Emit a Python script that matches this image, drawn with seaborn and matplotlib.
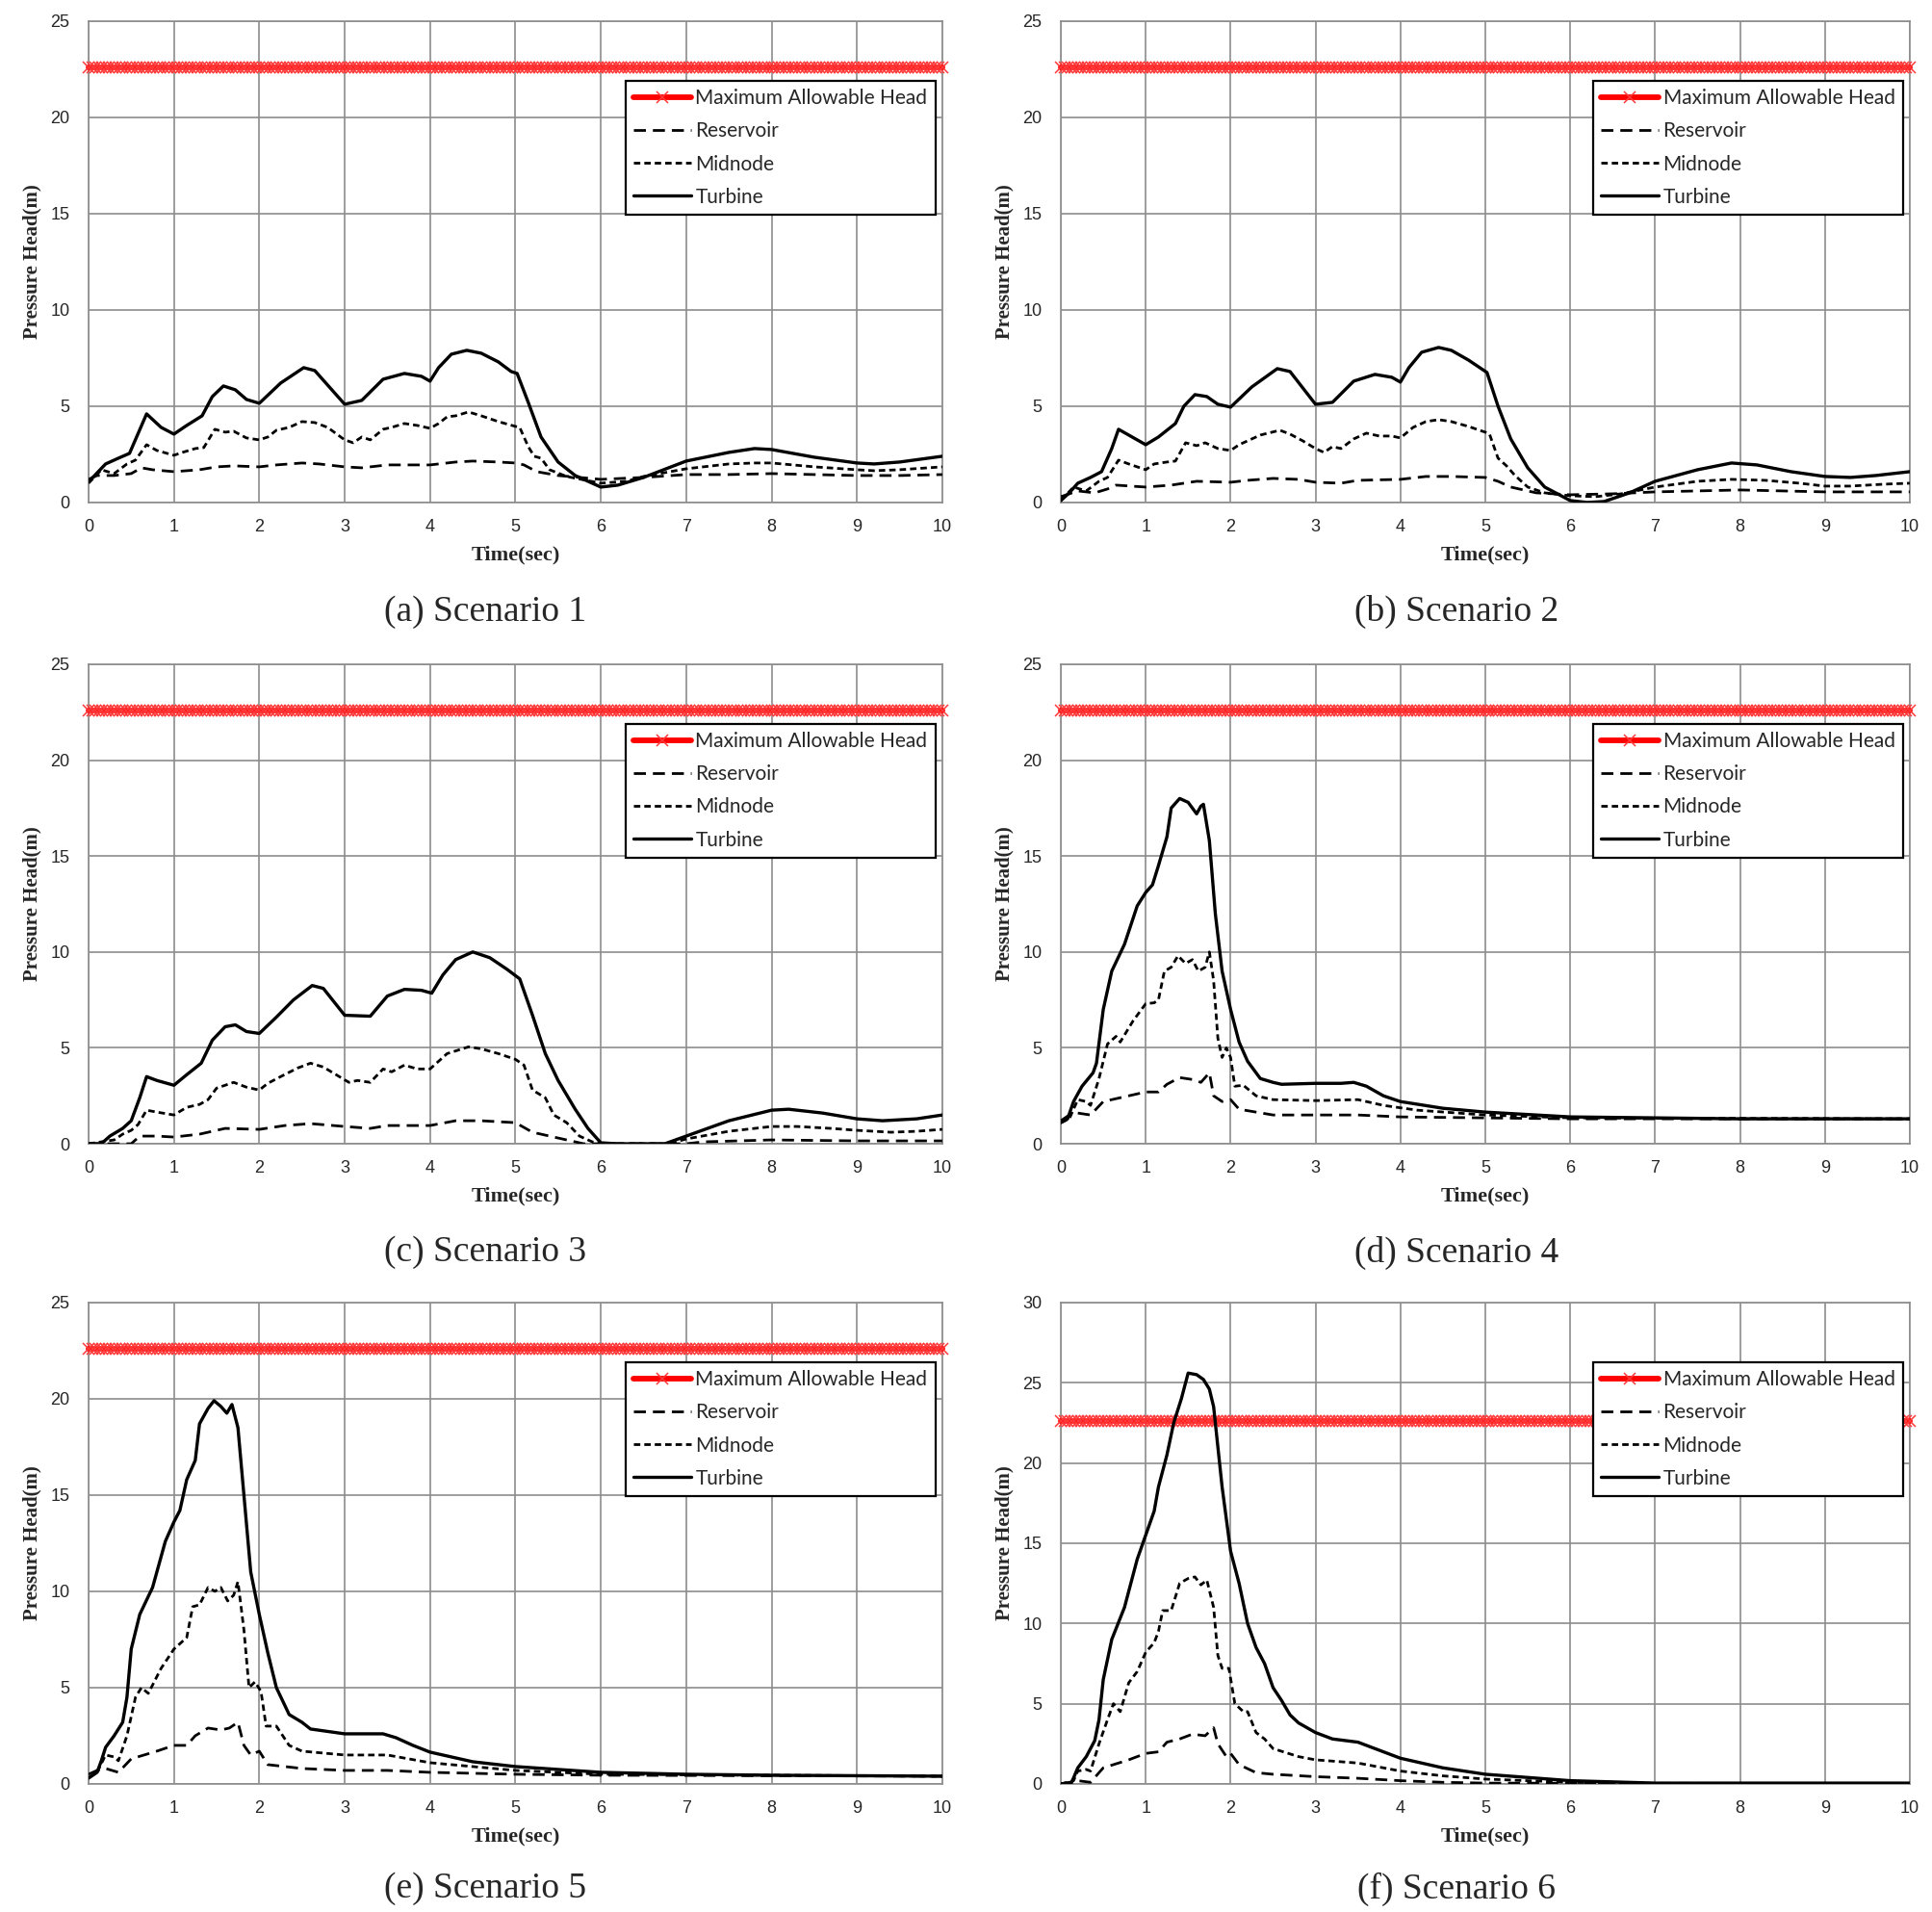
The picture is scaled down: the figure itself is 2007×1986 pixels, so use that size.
import numpy as np
import pandas as pd
import seaborn as sns
import matplotlib.pyplot as plt

# allowable head (constant) and the time steps the series was written at
max_head = 22.6
time_steps = np.linspace(0, 10, 251)

# ---------------- Scenario 1 ----------------
s1_res_t = [0, 0.1, 0.3, 0.5, 0.62, 0.75, 1.0, 1.3, 1.5, 1.7, 2.0, 2.2, 2.5, 2.7, 3.0, 3.2, 3.5, 4.0, 4.3, 4.5, 4.8, 5.0, 5.1, 5.25, 5.5, 6.0, 6.5, 7.0, 7.5, 8.0, 8.5, 9.0, 9.5, 10]
s1_res_h = [1.2, 1.4, 1.4, 1.5, 1.8, 1.7, 1.6, 1.7, 1.85, 1.9, 1.85, 1.95, 2.05, 2.0, 1.85, 1.8, 1.95, 1.95, 2.1, 2.15, 2.1, 2.05, 1.95, 1.6, 1.4, 1.2, 1.3, 1.45, 1.45, 1.5, 1.45, 1.4, 1.4, 1.45]
s1_mid_t = [0, 0.15, 0.3, 0.45, 0.55, 0.68, 0.8, 1.0, 1.1, 1.25, 1.35, 1.48, 1.6, 1.7, 1.85, 2.0, 2.1, 2.2, 2.35, 2.5, 2.65, 2.8, 3.0, 3.1, 3.2, 3.3, 3.45, 3.55, 3.7, 3.85, 4.0, 4.1, 4.2, 4.3, 4.45, 4.6, 4.8, 5.0, 5.05, 5.15, 5.22, 5.3, 5.4, 5.6, 6.0, 6.3, 6.5, 7.0, 7.5, 7.8, 8.0, 8.5, 9.0, 9.2, 9.5, 10]
s1_mid_h = [1.0, 1.7, 1.5, 2.0, 2.2, 3.0, 2.7, 2.45, 2.6, 2.8, 2.85, 3.8, 3.65, 3.7, 3.35, 3.25, 3.4, 3.75, 3.9, 4.2, 4.15, 3.9, 3.25, 3.1, 3.4, 3.25, 3.8, 3.9, 4.1, 4.0, 3.85, 4.1, 4.45, 4.5, 4.7, 4.5, 4.2, 3.95, 3.9, 2.9, 2.4, 2.3, 1.7, 1.35, 1.0, 1.1, 1.35, 1.75, 2.0, 2.05, 2.05, 1.85, 1.7, 1.65, 1.7, 1.85]
s1_tur_t = [0, 0.05, 0.2, 0.35, 0.48, 0.68, 0.85, 1.0, 1.15, 1.33, 1.45, 1.58, 1.72, 1.85, 2.0, 2.25, 2.52, 2.65, 3.0, 3.2, 3.45, 3.7, 3.9, 4.0, 4.1, 4.25, 4.43, 4.6, 4.8, 4.95, 5.02, 5.15, 5.3, 5.5, 5.7, 6.0, 6.2, 6.5, 7.0, 7.5, 7.8, 8.0, 8.5, 9.0, 9.2, 9.5, 10]
s1_tur_h = [1.1, 1.3, 2.0, 2.3, 2.55, 4.6, 3.9, 3.55, 4.0, 4.5, 5.5, 6.05, 5.85, 5.35, 5.15, 6.2, 7.0, 6.85, 5.1, 5.3, 6.4, 6.7, 6.55, 6.3, 7.0, 7.7, 7.9, 7.75, 7.3, 6.8, 6.7, 5.2, 3.4, 2.1, 1.4, 0.8, 0.9, 1.3, 2.15, 2.6, 2.8, 2.75, 2.35, 2.05, 2.0, 2.1, 2.4]

# ---------------- Scenario 2 ----------------
s2_res_t = [0, 0.2, 0.4, 0.55, 0.65, 1.0, 1.3, 1.6, 2.0, 2.2, 2.5, 2.8, 3.0, 3.3, 3.5, 4.0, 4.3, 4.6, 5.0, 5.15, 5.3, 5.6, 6.0, 6.5, 7.0, 7.5, 8.0, 8.5, 9.0, 9.5, 10]
s2_res_h = [0.3, 0.6, 0.5, 0.7, 0.9, 0.8, 0.9, 1.1, 1.05, 1.15, 1.25, 1.2, 1.05, 1.0, 1.15, 1.2, 1.35, 1.35, 1.3, 1.1, 0.8, 0.5, 0.4, 0.45, 0.55, 0.6, 0.65, 0.6, 0.55, 0.55, 0.55]
s2_mid_t = [0, 0.15, 0.3, 0.45, 0.55, 0.68, 0.8, 1.0, 1.1, 1.25, 1.35, 1.47, 1.6, 1.7, 1.85, 2.0, 2.1, 2.2, 2.35, 2.58, 2.7, 2.85, 3.0, 3.1, 3.2, 3.3, 3.45, 3.6, 3.75, 3.9, 4.0, 4.15, 4.3, 4.45, 4.6, 4.8, 5.0, 5.05, 5.15, 5.25, 5.35, 5.5, 5.7, 6.0, 6.3, 6.6, 7.0, 7.5, 7.9, 8.3, 8.7, 9.0, 9.3, 9.7, 10]
s2_mid_h = [0.1, 0.8, 0.6, 1.1, 1.3, 2.2, 2.0, 1.7, 2.0, 2.1, 2.15, 3.1, 2.95, 3.1, 2.8, 2.7, 3.0, 3.2, 3.5, 3.75, 3.55, 3.2, 2.8, 2.6, 2.9, 2.8, 3.3, 3.6, 3.45, 3.45, 3.35, 3.9, 4.2, 4.3, 4.2, 3.95, 3.65, 3.55, 2.3, 1.9, 1.4, 0.8, 0.5, 0.35, 0.3, 0.45, 0.8, 1.1, 1.2, 1.15, 1.0, 0.85, 0.85, 0.95, 1.0]
s2_tur_t = [0, 0.1, 0.2, 0.35, 0.48, 0.6, 0.68, 0.8, 1.0, 1.15, 1.35, 1.45, 1.58, 1.72, 1.85, 2.0, 2.25, 2.55, 2.7, 3.0, 3.2, 3.45, 3.7, 3.9, 4.0, 4.1, 4.25, 4.45, 4.6, 4.8, 5.02, 5.15, 5.3, 5.5, 5.7, 6.0, 6.2, 6.4, 6.7, 7.0, 7.5, 7.9, 8.2, 8.6, 9.0, 9.3, 9.6, 10]
s2_tur_h = [0.1, 0.5, 1.0, 1.3, 1.6, 2.8, 3.8, 3.5, 3.0, 3.4, 4.1, 5.0, 5.6, 5.5, 5.1, 4.95, 6.0, 6.95, 6.8, 5.1, 5.2, 6.3, 6.65, 6.5, 6.25, 7.0, 7.8, 8.05, 7.9, 7.4, 6.75, 5.0, 3.3, 1.8, 0.8, 0.1, 0.0, 0.05, 0.5, 1.1, 1.7, 2.05, 1.95, 1.6, 1.35, 1.3, 1.4, 1.6]

# ---------------- Scenario 3 ----------------
s3_res_t = [0, 0.5, 0.6, 0.8, 1.0, 1.3, 1.6, 2.0, 2.3, 2.6, 3.0, 3.3, 3.5, 4.0, 4.3, 4.6, 5.0, 5.2, 5.5, 5.8, 6.0, 7.0, 7.2, 8.0, 9.0, 10]
s3_res_h = [0, 0, 0.4, 0.4, 0.35, 0.5, 0.8, 0.75, 0.95, 1.05, 0.9, 0.8, 0.95, 0.95, 1.2, 1.2, 1.1, 0.6, 0.3, 0, 0, 0, 0.1, 0.2, 0.15, 0.15]
s3_mid_t = [0, 0.3, 0.4, 0.5, 0.58, 0.68, 0.8, 1.0, 1.15, 1.3, 1.4, 1.5, 1.7, 1.85, 2.0, 2.1, 2.25, 2.45, 2.6, 2.75, 2.9, 3.05, 3.15, 3.3, 3.45, 3.55, 3.7, 3.85, 4.0, 4.1, 4.2, 4.45, 4.6, 4.8, 5.0, 5.1, 5.2, 5.35, 5.45, 5.6, 5.75, 5.9, 6.0, 6.8, 7.0, 7.5, 8.0, 8.3, 8.7, 9.0, 9.4, 9.7, 10]
s3_mid_h = [0, 0.2, 0.5, 0.7, 1.0, 1.75, 1.65, 1.5, 1.9, 2.05, 2.3, 2.9, 3.2, 2.95, 2.8, 3.15, 3.5, 3.95, 4.2, 4.0, 3.6, 3.2, 3.3, 3.2, 3.9, 3.75, 4.1, 3.9, 3.9, 4.3, 4.7, 5.05, 4.95, 4.7, 4.4, 4.1, 2.8, 2.4, 1.5, 1.1, 0.4, 0.1, 0, 0, 0.25, 0.65, 0.9, 0.9, 0.8, 0.7, 0.6, 0.65, 0.75]
s3_tur_t = [0, 0.15, 0.25, 0.4, 0.5, 0.6, 0.68, 0.8, 1.0, 1.15, 1.32, 1.45, 1.6, 1.72, 1.85, 2.0, 2.2, 2.4, 2.62, 2.75, 3.0, 3.3, 3.5, 3.7, 3.9, 4.02, 4.15, 4.3, 4.5, 4.7, 4.9, 5.05, 5.2, 5.35, 5.5, 5.7, 5.85, 6.0, 6.2, 6.75, 7.0, 7.5, 8.0, 8.2, 8.6, 9.0, 9.3, 9.7, 10]
s3_tur_h = [0, 0, 0.4, 0.8, 1.2, 2.4, 3.5, 3.3, 3.05, 3.6, 4.2, 5.4, 6.1, 6.2, 5.85, 5.75, 6.6, 7.5, 8.25, 8.1, 6.7, 6.65, 7.7, 8.05, 8.0, 7.85, 8.8, 9.6, 10.0, 9.7, 9.1, 8.6, 6.7, 4.7, 3.3, 1.8, 0.8, 0.05, 0, 0, 0.4, 1.2, 1.75, 1.8, 1.6, 1.3, 1.2, 1.3, 1.5]

# ---------------- Scenario 4 ----------------
s4_res_t = [0, 0.1, 0.2, 0.35, 0.5, 0.8, 1.0, 1.15, 1.25, 1.4, 1.55, 1.65, 1.75, 1.8, 1.9, 2.0, 2.1, 2.3, 2.5, 3.0, 3.5, 4.0, 5.0, 6.0, 10]
s4_res_h = [1.2, 1.5, 1.6, 1.5, 2.2, 2.5, 2.7, 2.7, 3.1, 3.45, 3.35, 3.2, 3.7, 2.5, 2.2, 2.3, 1.8, 1.65, 1.5, 1.5, 1.5, 1.4, 1.35, 1.3, 1.3]
s4_mid_t = [0, 0.1, 0.2, 0.3, 0.35, 0.45, 0.55, 0.65, 0.7, 0.85, 1.0, 1.1, 1.15, 1.22, 1.3, 1.38, 1.47, 1.55, 1.62, 1.7, 1.75, 1.8, 1.85, 1.9, 1.95, 2.0, 2.05, 2.15, 2.3, 2.5, 3.0, 3.5, 3.8, 4.2, 5.0, 6.0, 10]
s4_mid_h = [1.1, 1.3, 2.3, 2.2, 2.0, 3.4, 5.2, 5.6, 5.3, 6.4, 7.3, 7.35, 7.5, 9.0, 9.2, 9.8, 9.4, 9.6, 9.0, 9.2, 10.0, 8.5, 5.5, 4.5, 5.0, 4.5, 3.0, 3.05, 2.5, 2.3, 2.25, 2.3, 2.0, 1.75, 1.5, 1.35, 1.3]
s4_tur_t = [0, 0.08, 0.15, 0.25, 0.38, 0.42, 0.5, 0.6, 0.75, 0.9, 1.0, 1.08, 1.15, 1.25, 1.3, 1.4, 1.5, 1.6, 1.65, 1.68, 1.75, 1.82, 1.9, 2.0, 2.1, 2.2, 2.35, 2.5, 2.6, 3.0, 3.3, 3.45, 3.6, 3.8, 4.0, 4.5, 5.0, 6.0, 7.0, 8.0, 10]
s4_tur_h = [1.1, 1.3, 2.2, 3.0, 3.7, 4.2, 7.0, 9.0, 10.4, 12.4, 13.1, 13.5, 14.5, 16.0, 17.5, 18.0, 17.8, 17.2, 17.6, 17.7, 15.8, 12.0, 9.0, 7.0, 5.3, 4.3, 3.4, 3.2, 3.1, 3.15, 3.15, 3.2, 3.0, 2.5, 2.2, 1.85, 1.65, 1.4, 1.35, 1.3, 1.3]

# ---------------- Scenario 5 ----------------
s5_res_t = [0, 0.1, 0.2, 0.35, 0.5, 0.8, 1.0, 1.15, 1.25, 1.4, 1.55, 1.65, 1.75, 1.82, 1.9, 2.0, 2.1, 2.3, 2.5, 3.0, 3.5, 4.0, 5.0, 6.0, 10]
s5_res_h = [0.5, 0.7, 0.8, 0.6, 1.3, 1.7, 2.0, 2.0, 2.5, 2.9, 2.8, 2.9, 3.2, 2.0, 1.5, 1.7, 1.0, 0.9, 0.8, 0.7, 0.7, 0.6, 0.5, 0.45, 0.4]
s5_mid_t = [0, 0.1, 0.2, 0.3, 0.35, 0.45, 0.55, 0.62, 0.7, 0.85, 1.0, 1.1, 1.15, 1.22, 1.3, 1.4, 1.48, 1.55, 1.63, 1.7, 1.75, 1.82, 1.88, 1.95, 2.02, 2.08, 2.2, 2.35, 2.5, 3.0, 3.5, 4.0, 5.0, 6.0, 10]
s5_mid_h = [0.3, 0.6, 1.5, 1.4, 1.2, 2.5, 4.5, 5.0, 4.7, 6.0, 7.0, 7.4, 7.6, 9.2, 9.3, 10.2, 10.0, 10.2, 9.5, 9.8, 10.5, 8.0, 5.0, 5.3, 4.8, 3.0, 3.0, 2.0, 1.7, 1.5, 1.5, 1.1, 0.7, 0.5, 0.4]
s5_tur_t = [0, 0.1, 0.15, 0.2, 0.3, 0.4, 0.45, 0.5, 0.6, 0.75, 0.9, 1.0, 1.07, 1.15, 1.25, 1.3, 1.4, 1.47, 1.55, 1.62, 1.68, 1.75, 1.82, 1.9, 2.0, 2.1, 2.2, 2.35, 2.5, 2.6, 3.0, 3.3, 3.45, 3.6, 3.8, 4.0, 4.5, 5.0, 6.0, 7.0, 8.0, 10]
s5_tur_h = [0.3, 0.6, 1.2, 1.9, 2.5, 3.2, 4.5, 7.0, 8.8, 10.2, 12.6, 13.6, 14.2, 15.8, 16.8, 18.7, 19.5, 19.9, 19.6, 19.25, 19.7, 18.5, 15.0, 11.0, 8.8, 6.8, 5.0, 3.6, 3.2, 2.85, 2.6, 2.6, 2.6, 2.4, 2.0, 1.65, 1.15, 0.9, 0.6, 0.5, 0.45, 0.4]

# ---------------- Scenario 6 ----------------
s6_res_t = [0, 0.2, 0.35, 0.5, 0.8, 1.0, 1.15, 1.25, 1.4, 1.55, 1.7, 1.8, 1.85, 1.95, 2.0, 2.1, 2.3, 2.5, 3.0, 3.5, 4.0, 4.5, 5.0, 10]
s6_res_h = [0, 0.2, 0.1, 1.0, 1.5, 1.9, 2.0, 2.6, 2.8, 3.1, 3.0, 3.5, 2.5, 1.7, 1.9, 1.2, 0.7, 0.6, 0.45, 0.35, 0.2, 0.1, 0.05, 0.02]
s6_mid_t = [0, 0.15, 0.2, 0.3, 0.35, 0.45, 0.55, 0.62, 0.7, 0.8, 0.9, 1.0, 1.1, 1.15, 1.2, 1.3, 1.4, 1.5, 1.58, 1.65, 1.72, 1.8, 1.85, 1.9, 1.98, 2.05, 2.15, 2.2, 2.3, 2.4, 2.5, 2.8, 3.0, 3.5, 4.0, 4.5, 5.0, 6.0, 7.0, 10]
s6_mid_h = [0, 0.2, 0.8, 0.9, 0.8, 2.5, 4.0, 5.0, 4.5, 6.3, 7.0, 8.2, 8.8, 9.5, 10.8, 10.8, 12.5, 12.8, 12.9, 12.4, 12.7, 11.0, 8.0, 7.2, 7.2, 5.0, 4.5, 4.5, 3.2, 2.8, 2.2, 1.7, 1.5, 1.3, 0.8, 0.5, 0.3, 0.1, 0.02, 0.02]
s6_tur_t = [0, 0.12, 0.2, 0.3, 0.4, 0.45, 0.5, 0.6, 0.75, 0.9, 1.0, 1.1, 1.15, 1.25, 1.33, 1.42, 1.5, 1.6, 1.68, 1.75, 1.8, 1.9, 2.0, 2.1, 2.2, 2.3, 2.4, 2.5, 2.6, 2.7, 2.8, 3.0, 3.2, 3.5, 3.7, 4.0, 4.5, 5.0, 5.5, 6.0, 7.0, 10]
s6_tur_h = [0, 0, 1.0, 1.7, 2.7, 4.0, 6.5, 9.0, 11.0, 14.0, 15.5, 17.0, 18.5, 20.5, 22.5, 24.0, 25.6, 25.5, 25.2, 24.6, 23.5, 18.5, 14.5, 12.5, 10.0, 8.5, 7.5, 6.0, 5.2, 4.3, 3.8, 3.2, 2.8, 2.6, 2.2, 1.6, 1.0, 0.6, 0.4, 0.2, 0.05, 0.05]

captions = ['(a) Scenario 1', '(b) Scenario 2', '(c) Scenario 3',
            '(d) Scenario 4', '(e) Scenario 5', '(f) Scenario 6']
y_tops = [25, 25, 25, 25, 25, 30]

scenarios = [
    (s1_res_t, s1_res_h, s1_mid_t, s1_mid_h, s1_tur_t, s1_tur_h),
    (s2_res_t, s2_res_h, s2_mid_t, s2_mid_h, s2_tur_t, s2_tur_h),
    (s3_res_t, s3_res_h, s3_mid_t, s3_mid_h, s3_tur_t, s3_tur_h),
    (s4_res_t, s4_res_h, s4_mid_t, s4_mid_h, s4_tur_t, s4_tur_h),
    (s5_res_t, s5_res_h, s5_mid_t, s5_mid_h, s5_tur_t, s5_tur_h),
    (s6_res_t, s6_res_h, s6_mid_t, s6_mid_h, s6_tur_t, s6_tur_h),
]

sns.set_style("white")
plt.rcParams['font.family'] = ['Liberation Sans Narrow', 'Liberation Sans', 'DejaVu Sans']

fig = plt.figure(figsize=(20.08, 19.86), dpi=100)

# axes boxes (figure fractions)
col_left = [0.0458, 0.5488]
col_width = [0.4417, 0.4392]
row_bottom = [0.7372, 0.4018, 0.0670]
row_height = [0.2518, 0.2508, 0.2518]
caption_x = [0.2510, 0.7535]
caption_y = [0.6798, 0.3449, 0.0121]

grid_col = '#8c8c8c'

for i, (rt, rh, mt, mh, tt, th) in enumerate(scenarios):
    r, c = divmod(i, 2)
    ax = fig.add_axes([col_left[c], row_bottom[r], col_width[c], row_height[r]])

    sns.lineplot(x=time_steps, y=np.full(time_steps.size, max_head), ax=ax,
                 color='#ff0000', lw=4.2, marker='x', markersize=8,
                 markeredgecolor='#ff3a3a', markeredgewidth=1.1,
                 label='Maximum Allowable Head', zorder=3, clip_on=False)
    sns.lineplot(x=rt, y=rh, ax=ax, color='black', lw=2.0,
                 linestyle=(0, (4.5, 2.6)), label='Reservoir', zorder=4)
    sns.lineplot(x=mt, y=mh, ax=ax, color='black', lw=2.0,
                 linestyle=(0, (2.4, 1.5)), label='Midnode', zorder=4)
    sns.lineplot(x=tt, y=th, ax=ax, color='black', lw=2.4,
                 label='Turbine', zorder=5)

    ax.set_xlim(0, 10)
    ax.set_ylim(0, y_tops[i])
    ax.set_xticks(range(0, 11))
    ax.set_yticks(range(0, y_tops[i] + 1, 5))
    ax.grid(True, color=grid_col, lw=1.2)
    ax.set_axisbelow(True)
    for sp in ax.spines.values():
        sp.set_color(grid_col)
        sp.set_linewidth(1.2)
    ax.tick_params(axis='x', length=0, pad=12, labelsize=13)
    ax.tick_params(axis='y', length=0, pad=14, labelsize=13)

    ax.set_xlabel('Time(sec)', family='Liberation Serif', fontweight='bold', fontsize=16)
    ax.set_ylabel('Pressure Head(m)', family='Liberation Serif', fontweight='bold', fontsize=15)
    ax.xaxis.set_label_coords(0.5, -0.09)
    ax.yaxis.set_label_coords(-0.055, 0.5)

    leg = ax.legend(loc='upper right', bbox_to_anchor=(0.992, 0.876),
                    prop={'family': 'Lato', 'size': 15}, frameon=True,
                    fancybox=False, framealpha=1, edgecolor='black',
                    borderpad=0.4, labelspacing=0.68, handlelength=2.9,
                    handletextpad=0.2, borderaxespad=0)
    leg.get_frame().set_linewidth(1.6)

    fig.text(caption_x[c], caption_y[r], captions[i],
             family='Liberation Serif', fontsize=27, ha='center', va='center')

fig.savefig('out.png', dpi=100, facecolor='white')
